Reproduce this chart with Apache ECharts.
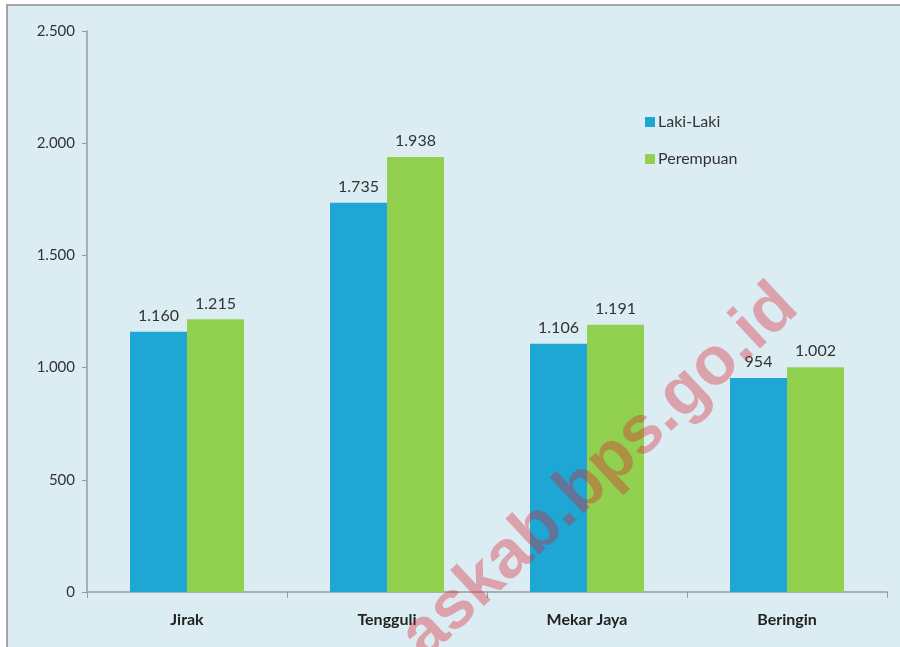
<!DOCTYPE html>
<html>
<head>
<meta charset="utf-8">
<script src="https://cdn.jsdelivr.net/npm/echarts@6/dist/echarts.min.js"></script>
<style>
  html, body { margin: 0; padding: 0; background: #fff; }
  #chart { width: 900px; height: 647px; }
</style>
</head>
<body>
<div id="chart"></div>
<script>
// desa / kelurahan
var categories = ['Jirak', 'Tengguli', 'Mekar Jaya', 'Beringin']
var lakiLaki = [1160, 1735, 1106, 954]
var perempuan = [1215, 1938, 1191, 1002]
var seriesNames = ['Laki-Laki', 'Perempuan']
var yTicks = [0, 500, 1000, 1500, 2000, 2500]

// 1160 -> 1.160
function fmt (v) {
  return String(v).replace(/\B(?=(\d{3})+(?!\d))/g, '.')
}

var chart = echarts.init(document.getElementById('chart'))
var option = {
  backgroundColor: '#fff',
  textStyle: { fontFamily: 'Lato, "Noto Sans", sans-serif' },
  graphic: [
    {
      type: 'rect',
      z: -10,
      shape: { x: 7, y: 5, width: 900, height: 700 },
      style: { fill: '#dbedf3', stroke: '#8a8a8a', lineWidth: 1.5 }
    },
    {
      type: 'text',
      z: 100,
      x: 600,
      y: 472,
      rotation: 43 * Math.PI / 180,
      style: {
        text: 'askab.bps.go.id',
        fill: 'rgba(220, 30, 45, 0.36)',
        font: 'bold 68px "Liberation Sans", Arial, sans-serif',
        align: 'center',
        verticalAlign: 'middle'
      }
    }
  ],
  legend: {
    orient: 'vertical',
    left: 640,
    top: 109,
    itemGap: 21,
    itemWidth: 10,
    itemHeight: 10,
    icon: 'rect',
    data: seriesNames,
    textStyle: { fontSize: 16, color: '#333', padding: [0, 0, 0, -2] }
  },
  grid: {
    left: 87,
    right: 13,
    top: 31,
    bottom: 55,
    containLabel: false
  },
  xAxis: {
    type: 'category',
    data: categories,
    axisLine: { lineStyle: { color: '#9a9a9a', width: 1.5 } },
    axisTick: { show: true, length: 6, lineStyle: { color: '#9a9a9a' } },
    axisLabel: { fontSize: 16, fontWeight: 'bold', color: '#222', margin: 20 }
  },
  yAxis: {
    type: 'value',
    min: yTicks[0],
    max: yTicks[yTicks.length - 1],
    interval: 500,
    splitLine: { show: false },
    axisLine: { show: true, lineStyle: { color: '#9a9a9a', width: 1.5 } },
    axisTick: { show: true, length: 5, lineStyle: { color: '#9a9a9a' } },
    axisLabel: {
      fontSize: 15,
      color: '#333',
      margin: 12,
      formatter: function (v) { return fmt(v) }
    }
  },
  series: [
    {
      name: seriesNames[0],
      type: 'bar',
      data: lakiLaki,
      barGap: '0%',
      barCategoryGap: '43%',
      itemStyle: { color: '#1ea7d5' },
      label: {
        show: true,
        position: 'top',
        distance: 8,
        fontSize: 16,
        color: '#333',
        formatter: function (p) { return fmt(p.value) }
      }
    },
    {
      name: seriesNames[1],
      type: 'bar',
      data: perempuan,
      barGap: '0%',
      barCategoryGap: '43%',
      itemStyle: { color: '#92d050' },
      label: {
        show: true,
        position: 'top',
        distance: 8,
        fontSize: 16,
        color: '#333',
        formatter: function (p) { return fmt(p.value) }
      }
    }
  ]
}
chart.setOption(option)
</script>
</body>
</html>
